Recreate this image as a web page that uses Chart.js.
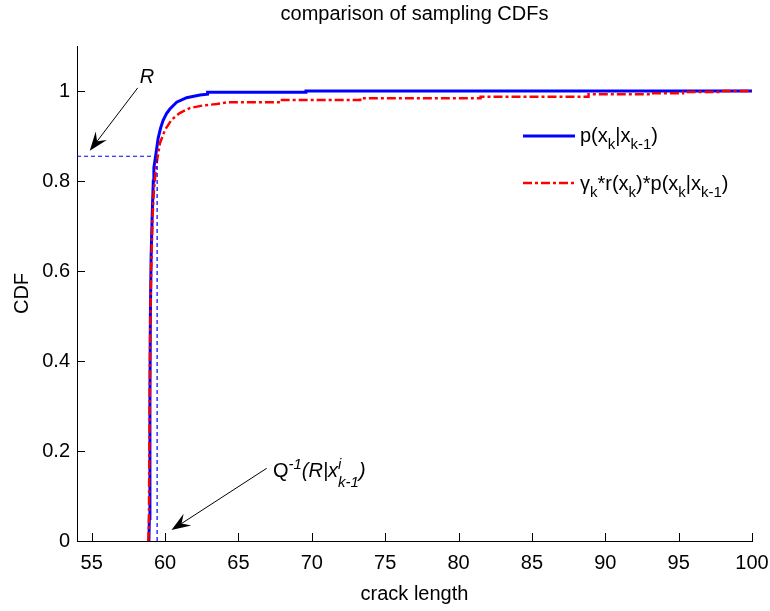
<!DOCTYPE html>
<html>
<head>
<meta charset="utf-8">
<script src="https://cdn.jsdelivr.net/npm/chart.js@4/dist/chart.umd.min.js"></script>
<style>
  html, body { margin: 0; padding: 0; background: #fff; }
  #wrap { width: 770px; height: 611px; }
</style>
</head>
<body>
<div id="wrap"><canvas id="cdfChart" width="770" height="611"></canvas></div>
<script>
// valorile
const xTicks = [55, 60, 65, 70, 75, 80, 85, 90, 95, 100];
const yTicks = [0, 0.2, 0.4, 0.6, 0.8, 1];

// p(x_k|x_k-1)
const blueX = [58.9, 58.93, 58.97, 59.0, 59.05, 59.12, 59.2, 59.24, 59.37, 59.53, 59.7, 59.87, 60.1, 60.33, 60.79, 61.47, 62.38, 62.9, 62.9, 69.6, 69.6, 100];
const blueY = [0, 0.05, 0.3, 0.5, 0.63, 0.72, 0.8, 0.83, 0.858, 0.895, 0.918, 0.935, 0.95, 0.96, 0.975, 0.985, 0.991, 0.993, 0.997, 0.997, 1.0, 1.0];

// gamma_k*r(x_k)*p(x_k|x_k-1)
const redX = [58.85, 58.9, 58.93, 58.98, 59.05, 59.15, 59.24, 59.42, 59.65, 59.99, 60.44, 61.0, 61.69, 62.6, 63.54, 64.29, 67.84, 67.84, 73.3, 73.3, 81.5, 81.5, 88.86, 88.86, 93.1, 93.1, 95.3, 95.3, 97.9, 97.9, 100];
const redY = [0, 0.03, 0.2, 0.45, 0.6, 0.72, 0.78, 0.839, 0.884, 0.913, 0.936, 0.951, 0.962, 0.968, 0.971, 0.975, 0.975, 0.98, 0.98, 0.984, 0.984, 0.987, 0.987, 0.993, 0.993, 0.995, 0.995, 0.998, 0.998, 1.0, 1.0];

// liniile punctate R si Q^-1
const rLineX = [54, 59.2];
const rLineY = [0.855, 0.855];
const qLineX = [59.46, 59.46];
const qLineY = [0, 0.855];

// sagetile (coordonate in date)
const arrowR = { from: [58.14, 1.007], to: [54.87, 0.867], text: [58.28, 1.017] };
const arrowQ = { from: [66.93, 0.1616], to: [60.44, 0.0244], text: [67.35, 0.143] };

const FONT = '"Liberation Sans", Arial, sans-serif';
const FS = 20;
const BLUE = '#0000ff';
const RED = '#ff0000';

function pts(xs, ys) {
    return xs.map((x, i) => ({ x: x, y: ys[i] }));
}

// text cu indici / exponenti
function drawRich(ctx, x, y, parts, size, subOff, supOff) {
    let cx = x;
    let lastStart = x;
    parts.forEach(p => {
        const small = p.s === 'sub' || p.s === 'sup';
        const fs = small ? Math.round(size * 0.75) : size;
        ctx.font = (p.it ? 'italic ' : '') + fs + 'px ' + FONT;
        let yy = y;
        if (p.s === 'sub') yy = y + subOff;
        if (p.s === 'sup') yy = y - supOff;
        const start = p.back ? lastStart : cx;
        ctx.fillText(p.t, start, yy);
        lastStart = start;
        const w = ctx.measureText(p.t).width;
        cx = p.back ? Math.max(cx, start + w) : start + w;
    });
}

function drawArrow(ctx, x1, y1, x2, y2) {
    const ang = Math.atan2(y2 - y1, x2 - x1);
    const len = 19, half = 7, notch = 12;
    ctx.save();
    ctx.strokeStyle = '#000';
    ctx.fillStyle = '#000';
    ctx.lineWidth = 1;
    ctx.beginPath();
    ctx.moveTo(x1, y1);
    ctx.lineTo(x2 - Math.cos(ang) * notch, y2 - Math.sin(ang) * notch);
    ctx.stroke();
    ctx.translate(x2, y2);
    ctx.rotate(ang);
    ctx.beginPath();
    ctx.moveTo(0, 0);
    ctx.lineTo(-len, -half);
    ctx.lineTo(-notch, 0);
    ctx.lineTo(-len, half);
    ctx.closePath();
    ctx.fill();
    ctx.restore();
}

const decor = {
    id: 'decor',
    afterDraw(chart) {
        const ctx = chart.ctx;
        const a = chart.chartArea;
        const xs = chart.scales.x, ys = chart.scales.y;
        ctx.save();
        // tick-uri spre interior
        ctx.strokeStyle = '#000';
        ctx.lineWidth = 1;
        ctx.beginPath();
        xs.ticks.forEach(t => {
            const px = Math.round(xs.getPixelForValue(t.value)) + 0.5;
            ctx.moveTo(px, a.bottom);
            ctx.lineTo(px, a.bottom - 8);
        });
        ys.ticks.forEach(t => {
            const py = Math.round(ys.getPixelForValue(t.value)) + 0.5;
            ctx.moveTo(a.left, py);
            ctx.lineTo(a.left + 8, py);
        });
        ctx.stroke();

        // titlu
        ctx.fillStyle = '#000';
        ctx.textAlign = 'center';
        ctx.textBaseline = 'middle';
        ctx.font = FS + 'px ' + FONT;
        ctx.fillText('comparison of sampling CDFs', (a.left + a.right) / 2, 14);

        // legenda
        ctx.textAlign = 'left';
        ctx.textBaseline = 'alphabetic';
        const lx1 = a.right - 229, lx2 = a.right - 177, tx = a.right - 172;
        const r1 = a.top + 90, r2 = a.top + 137;
        ctx.lineWidth = 3;
        ctx.strokeStyle = BLUE;
        ctx.beginPath(); ctx.moveTo(lx1, r1); ctx.lineTo(lx2, r1); ctx.stroke();
        ctx.lineWidth = 2.5;
        ctx.strokeStyle = RED;
        ctx.setLineDash([9, 3, 3, 3]);
        ctx.beginPath(); ctx.moveTo(lx1, r2); ctx.lineTo(lx2, r2); ctx.stroke();
        ctx.setLineDash([]);
        drawRich(ctx, tx, r1 + 6, [
            { t: 'p(x' }, { t: 'k', s: 'sub' }, { t: '|x' }, { t: 'k-1', s: 'sub' }, { t: ')' }
        ], FS, 7, 8);
        drawRich(ctx, tx, r2 + 7, [
            { t: 'γ' }, { t: 'k', s: 'sub' }, { t: '*r(x' }, { t: 'k', s: 'sub' }, { t: ')*p(x' },
            { t: 'k', s: 'sub' }, { t: '|x' }, { t: 'k-1', s: 'sub' }, { t: ')' }
        ], FS, 7, 8);

        // adnotari
        const P = (d) => [xs.getPixelForValue(d[0]), ys.getPixelForValue(d[1])];
        let f = P(arrowR.from), t = P(arrowR.to);
        drawArrow(ctx, f[0], f[1], t[0], t[1]);
        f = P(arrowQ.from); t = P(arrowQ.to);
        drawArrow(ctx, f[0], f[1], t[0], t[1]);
        const rt = P(arrowR.text);
        drawRich(ctx, rt[0], rt[1], [{ t: 'R', it: true }], FS, 7, 8);
        const qt = P(arrowQ.text);
        drawRich(ctx, qt[0], qt[1], [
            { t: 'Q' }, { t: '-1', s: 'sup', it: true }, { t: '(R|x', it: true },
            { t: 'i', s: 'sup', it: true }, { t: 'k-1', s: 'sub', it: true, back: true }, { t: ')', it: true }
        ], FS, 10, 8);
        ctx.restore();
    }
};

const ctx = document.getElementById('cdfChart').getContext('2d');
new Chart(ctx, {
    type: 'line',
    data: {
        datasets: [
            { data: pts(blueX, blueY), borderColor: BLUE, borderWidth: 3, order: 3 },
            { data: pts(redX, redY), borderColor: RED, borderWidth: 2.5, borderDash: [9, 3, 3, 3], order: 2 },
            { data: pts(rLineX, rLineY), borderColor: BLUE, borderWidth: 1.2, borderDash: [4, 3], order: 1 },
            { data: pts(qLineX, qLineY), borderColor: BLUE, borderWidth: 1.2, borderDash: [4, 3], order: 1 }
        ]
    },
    options: {
        responsive: false,
        animation: false,
        elements: { point: { radius: 0 }, line: { tension: 0, fill: false } },
        layout: { padding: { top: 46, right: 18, left: 0, bottom: 0 } },
        plugins: { legend: { display: false }, tooltip: { enabled: false }, title: { display: false } },
        scales: {
            x: {
                type: 'linear', min: 54, max: 100,
                afterBuildTicks: s => { s.ticks = xTicks.map(v => ({ value: v })); },
                afterFit: s => { s.height = 70; s.paddingLeft = 0; s.paddingRight = 0; },
                ticks: { color: '#000', font: { family: FONT, size: FS }, padding: 10, maxRotation: 0, autoSkip: false, callback: v => String(v) },
                grid: { display: false, drawTicks: false },
                border: { display: true, color: '#000', width: 1 },
                title: { display: true, text: 'crack length', color: '#000', font: { family: FONT, size: FS }, padding: { top: 0, bottom: 5 } }
            },
            y: {
                type: 'linear', min: 0, max: 1.1,
                afterBuildTicks: s => { s.ticks = yTicks.map(v => ({ value: v })); },
                afterFit: s => { s.width = 77; s.paddingTop = 0; s.paddingBottom = 0; },
                ticks: { color: '#000', font: { family: FONT, size: FS }, padding: 7, callback: v => String(v) },
                grid: { display: false, drawTicks: false },
                border: { display: true, color: '#000', width: 1 },
                title: { display: true, text: 'CDF', color: '#000', font: { family: FONT, size: FS }, padding: { top: 10, bottom: 0 } }
            }
        }
    },
    plugins: [decor]
});
</script>
</body>
</html>
